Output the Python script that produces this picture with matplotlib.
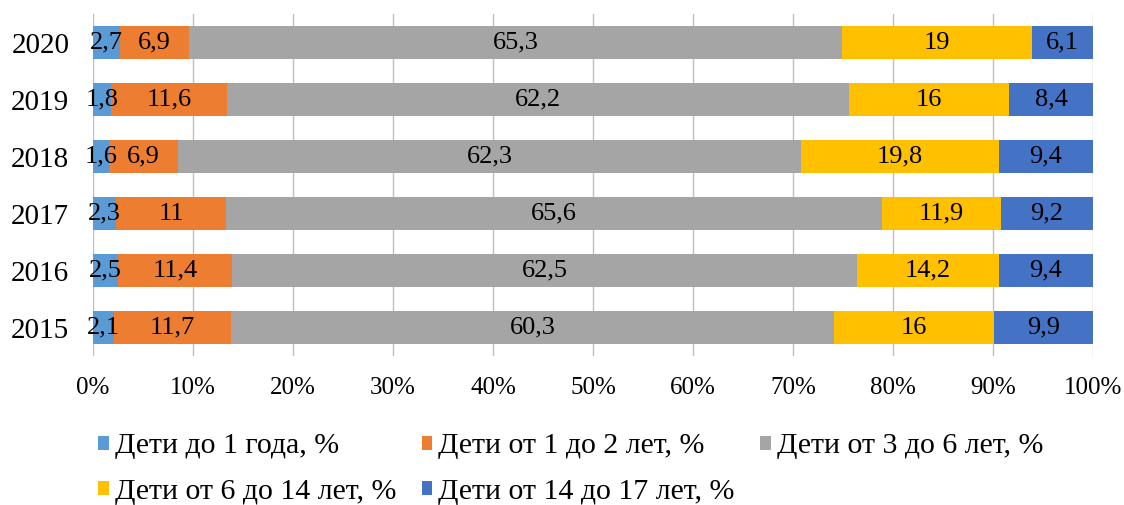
import matplotlib.pyplot as plt
from matplotlib.ticker import MultipleLocator, FuncFormatter

plt.rcParams['font.family'] = ['Liberation Serif', 'DejaVu Serif']

years = ['2015', '2016', '2017', '2018', '2019', '2020']
labels = ['Дети до 1 года, %', 'Дети от 1 до 2 лет, %', 'Дети от 3 до 6 лет, %',
          'Дети от 6 до 14 лет, %', 'Дети от 14 до 17 лет, %']
under_1 = [2.1, 2.5, 2.3, 1.6, 1.8, 2.7]
from_1_to_2 = [11.7, 11.4, 11, 6.9, 11.6, 6.9]
from_3_to_6 = [60.3, 62.5, 65.6, 62.3, 62.2, 65.3]
from_6_to_14 = [16, 14.2, 11.9, 19.8, 16, 19]
from_14_to_17 = [9.9, 9.4, 9.2, 9.4, 8.4, 6.1]
series = [under_1, from_1_to_2, from_3_to_6, from_6_to_14, from_14_to_17]
colors = ['#5B9BD5', '#ED7D31', '#A5A5A5', '#FFC000', '#4472C4']

fig = plt.figure(figsize=(11.24, 5.05), dpi=100)
ax = fig.add_axes([0.0827, 0.295, 0.8897, 0.677])

left = [0] * len(years)
for vals, lab, col in zip(series, labels, colors):
    bars = ax.barh(years, vals, left=left, height=0.57, color=col, label=lab, zorder=2)
    for b, v in zip(bars, vals):
        txt = f'{v:g}'.replace('.', ',')
        ax.text(b.get_x() + b.get_width() / 2, b.get_y() + b.get_height() / 2, txt,
                ha='center', va='center', fontsize=19, color='black', zorder=3)
    left = [l + v for l, v in zip(left, vals)]

ax.set_xlim(0, 100)
ax.set_ylim(-0.5, 5.5)
ax.xaxis.set_major_locator(MultipleLocator(10))
ax.xaxis.set_major_formatter(FuncFormatter(lambda x, p: f'{x:.0f}%'))
ax.grid(axis='x', color='#BFBFBF', lw=1, zorder=0)
for s in ax.spines.values():
    s.set_visible(False)
ax.tick_params(axis='both', length=0, colors='black')
ax.tick_params(axis='x', labelsize=18, pad=15)
ax.tick_params(axis='y', labelsize=21, pad=17)

# row-major order for the 3-column legend
handles, labs = ax.get_legend_handles_labels()
order = [0, 3, 1, 4, 2]
fig.legend([handles[i] for i in order], [labs[i] for i in order],
           loc='center left', bbox_to_anchor=(0.074, 0.071), ncol=3, frameon=False,
           fontsize=21.5, handlelength=0.36, handleheight=0.36, handletextpad=0.2,
           columnspacing=0.85, labelspacing=0.65, borderpad=0)

fig.savefig('out.png', dpi=100)
